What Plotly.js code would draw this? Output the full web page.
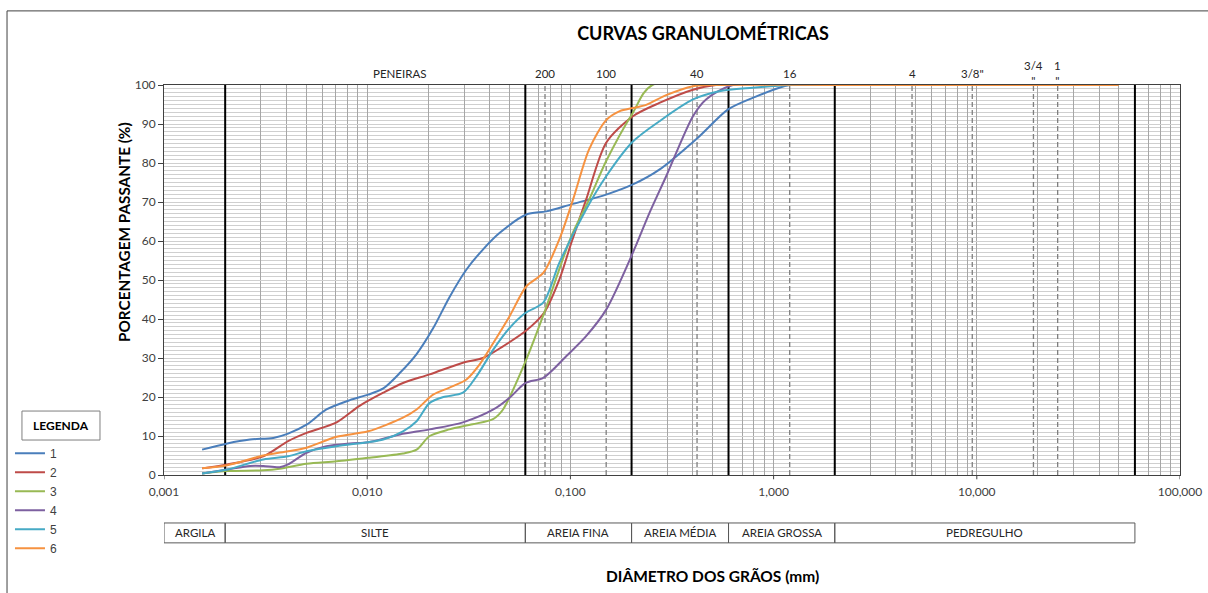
<!DOCTYPE html>
<html>
<head>
<meta charset="utf-8">
<script src="https://cdn.plot.ly/plotly-3.0.1.min.js"></script>
<style>html,body{margin:0;padding:0;background:#fff;}#chart{width:1208px;height:593px;}</style>
</head>
<body>
<div id="chart"></div>
<script>
// ---- data ----
const seriesNames = ["1", "2", "3", "4", "5", "6"];
const d1 = [0.00154,0.00205,0.00265,0.00345,0.00408,0.00503,0.0063,0.00821,0.0101,0.012,0.0145,0.0175,0.0211,0.0254,0.0308,0.0371,0.0449,0.0607,0.0761,0.101,0.150,0.203,0.274,0.424,0.595,0.789,1.2,2,50];
const p1 = [6.5,8.1,9.1,9.5,10.6,12.9,16.8,19.2,20.6,22.2,26.2,31.0,37.6,45.6,52.7,57.8,62.1,66.8,67.6,69.4,71.9,74.5,78.3,86.5,93.7,96.7,100,100,100];
const d2 = [0.00154,0.00205,0.00308,0.00408,0.00503,0.00707,0.00921,0.012,0.015,0.0203,0.0296,0.0371,0.0466,0.0602,0.0742,0.0882,0.101,0.1195,0.150,0.203,0.274,0.401,0.52,2,50];
const p2 = [1.7,2.7,4.8,8.7,10.8,13.5,17.8,21.1,23.6,25.8,28.8,30,33,36.9,41.6,50.1,59.5,70.6,85.2,92,95.4,98.8,100,100,100];
const d3 = [0.00154,0.00205,0.00308,0.00371,0.00503,0.00707,0.0101,0.015,0.0175,0.0203,0.0254,0.033,0.0418,0.0466,0.0602,0.0742,0.101,0.1236,0.150,0.203,0.253,2,50];
const p3 = [0.4,1,1.2,1.6,2.9,3.5,4.4,5.5,6.5,10,11.7,13,14.4,16.8,29.2,41.5,61.2,70.6,80.5,92.9,100,100,100];
const d4 = [0.00154,0.00205,0.00265,0.00308,0.00371,0.00408,0.00503,0.0063,0.00821,0.0101,0.0145,0.0203,0.0296,0.0418,0.0502,0.0602,0.0735,0.0956,0.1195,0.150,0.203,0.245,0.296,0.401,0.465,0.63,2,50];
const p4 = [0.4,1.4,2.3,2.3,2,2.7,5.7,7.4,8.1,8.4,10.4,11.7,13.5,16.8,19.8,23.6,24.9,30.5,35.6,42.4,57,67.2,76.6,92,96.3,100,100,100];
const d5 = [0.00154,0.00205,0.00308,0.00408,0.00503,0.00707,0.0101,0.012,0.015,0.0175,0.0203,0.0237,0.0296,0.0345,0.0418,0.0502,0.0602,0.0735,0.0882,0.1195,0.150,0.203,0.274,0.401,0.54,0.789,1.2,2,50];
const p5 = [0.4,1.4,4,4.8,6.1,7.4,8.4,9.1,11.2,13.8,18.5,20,21.1,25.3,32.2,37.7,41.6,44.2,54.4,68.1,76.6,85.5,90.7,96.3,98.4,99.3,100,100,100];
const d6 = [0.00154,0.00205,0.00308,0.00408,0.00503,0.00707,0.0101,0.015,0.0175,0.0211,0.0254,0.0308,0.0357,0.0418,0.0502,0.0607,0.0735,0.0882,0.103,0.1236,0.150,0.175,0.203,0.236,0.296,0.401,0.48,2,50];
const p6 = [1.7,2.5,5,6.1,7,9.8,11.2,14.7,16.8,20.6,22.4,24.5,28.3,33.9,40.7,48.4,51.8,60.4,70.6,83.5,91,93.3,94.1,94.9,97.4,99.7,100,100,100];

const sieveSizes = [0.075, 0.15, 0.42, 1.2, 4.8, 9.5, 19, 25];
const sieveLabels = ["200", "100", "40", "16", "4", "3/8\"", "3/4<br>\"", "1<br>\""];
const boundaries = [0.002, 0.06, 0.2, 0.6, 2, 60];
const classEdges = [0.001, 0.002, 0.06, 0.2, 0.6, 2, 60];
const classNames = ["ARGILA", "SILTE", "AREIA FINA", "AREIA MÉDIA", "AREIA GROSSA", "PEDREGULHO"];
const xTickVals = [0.001, 0.01, 0.1, 1, 10, 100];
const xTickText = ["0,001", "0,010", "0,100", "1,000", "10,000", "100,000"];

// ---- styles ----
const colors = ["#4A7EBB", "#BE4B48", "#98B954", "#7D60A0", "#46AAC5", "#F69240"];
const FONT = "Lato, 'Open Sans', sans-serif";
const dsets = [[d1,p1],[d2,p2],[d3,p3],[d4,p4],[d5,p5],[d6,p6]];

// log gridlines: 1..9 within each decade, labels only at the decades
const gridVals = [], gridText = [];
for (let e = -3; e < 2; e++) for (let m = 1; m <= 9; m++) {
  gridVals.push(m * Math.pow(10, e));
  gridText.push(m === 1 ? xTickText[e + 3] : '');
}
gridVals.push(100); gridText.push(xTickText[5]);

function vlines(vals) {
  const xs = [], ys = [];
  vals.forEach(v => { xs.push(v, v, null); ys.push(0, 100, null); });
  return {xs, ys};
}
const bl = vlines(boundaries), sl = vlines(sieveSizes);
const traces = [
  {x: sl.xs, y: sl.ys, type:'scatter', mode:'lines', showlegend:false, hoverinfo:'skip',
   line:{color:'#7f7f7f', width:1.3, dash:'5px,3px'}},
  {x: bl.xs, y: bl.ys, type:'scatter', mode:'lines', showlegend:false, hoverinfo:'skip',
   line:{color:'#000', width:2}}
].concat(dsets.map((s, i) => ({
  x: s[0], y: s[1], name: seriesNames[i], type: 'scatter', mode: 'lines',
  line: {color: colors[i], width: 2, shape: 'spline', smoothing: 0.8},
  hoverinfo: 'x+y+name'
})));

const shapes = [];
// decade tick marks under the axis
xTickVals.forEach(v => shapes.push({type:'line', xref:'x', yref:'paper', x0:v, x1:v, y0:0, y1:-0.011, line:{color:'#404040', width:1}}));
for (let i = 0; i < classNames.length; i++) {
  shapes.push({type:'rect', xref:'x', yref:'paper', x0:classEdges[i], x1:classEdges[i+1], y0:-0.174, y1:-0.123, line:{color:'#595959', width:1}, fillcolor:'rgba(0,0,0,0)'});
}
// legend title box and outer frame
shapes.push({type:'rect', xref:'paper', yref:'paper', x0:-0.1398, x1:-0.063, y0:0.0897, y1:0.164, line:{color:'#7f7f7f', width:1}});
shapes.push({type:'rect', xref:'paper', yref:'paper', x0:-0.1545, x1:1.04, y0:-0.33, y1:1.19, line:{color:'#404040', width:1}});

const annotations = [];
sieveSizes.forEach((s, i) => annotations.push({xref:'x', yref:'paper', x:Math.log10(s), y:1, yshift:12, xanchor:'center', yanchor:'middle', text:sieveLabels[i], showarrow:false, font:{family:FONT, size:11.5, color:'#262626'}}));
annotations.push({xref:'paper', yref:'paper', x:0.232, y:1, yshift:12, xanchor:'center', yanchor:'middle', text:'PENEIRAS', showarrow:false, font:{family:FONT, size:11.5, color:'#262626'}});
for (let i = 0; i < classNames.length; i++) {
  const xm = (Math.log10(classEdges[i]) + Math.log10(classEdges[i+1])) / 2;
  annotations.push({xref:'x', yref:'paper', x:xm, y:-0.1487, xanchor:'center', yanchor:'middle', text:classNames[i], showarrow:false, font:{family:FONT, size:11.5, color:'#262626'}});
}
annotations.push({xref:'paper', yref:'paper', x:-0.0394, y:0.623, xanchor:'center', yanchor:'middle', textangle:-90, text:'<b>PORCENTAGEM PASSANTE (%)</b>', showarrow:false, font:{family:FONT, size:15.3, color:'#000'}});
annotations.push({xref:'paper', yref:'paper', x:0.540, y:-0.259, xanchor:'center', yanchor:'middle', text:'<b>DIÂMETRO DOS GRÃOS (mm)</b>', showarrow:false, font:{family:FONT, size:15.5, color:'#000'}});
annotations.push({xref:'paper', yref:'paper', x:-0.1014, y:0.1269, xanchor:'center', yanchor:'middle', text:'<b>LEGENDA</b>', showarrow:false, font:{family:FONT, size:12, color:'#000'}});

const layout = {
  width: 1208, height: 593,
  margin: {l:164, r:28, t:85, b:118, autoexpand:false},
  paper_bgcolor: '#fff', plot_bgcolor: '#fff',
  title: {text:'<b>CURVAS GRANULOMÉTRICAS</b>', x:0.582, xanchor:'center', y:0.944, yanchor:'middle', font:{family:FONT, size:18, color:'#000'}},
  xaxis: {
    type:'log', range:[-3, 2], tickmode:'array', tickvals:gridVals, ticktext:gridText,
    showgrid:true, gridcolor:'#a6a6a6', gridwidth:1,
    showline:true, linecolor:'#404040', linewidth:1, mirror:true,
    ticks:'', ticklabelstandoff:6,
    tickfont:{family:FONT, size:12, color:'#404040'}, zeroline:false
  },
  yaxis: {
    range:[0, 100], dtick:10, showgrid:true, gridcolor:'#cfcfcf', gridwidth:1,
    minor:{dtick:1, showgrid:true, gridcolor:'#cfcfcf', gridwidth:1, ticks:''},
    showline:true, linecolor:'#404040', linewidth:1, mirror:true,
    ticks:'outside', ticklen:5, tickcolor:'#404040',
    tickfont:{family:FONT, size:12, color:'#404040'}, zeroline:false
  },
  showlegend: true,
  legend: {x:-0.1516, xanchor:'left', y:0.093, yanchor:'top', bgcolor:'rgba(0,0,0,0)',
    font:{family:"'Liberation Sans', Arial, sans-serif", size:12, color:'#404040'}, itemwidth:30, tracegroupgap:0},
  shapes: shapes,
  annotations: annotations
};

Plotly.newPlot('chart', traces, layout, {displayModeBar:false, staticPlot:true});
</script>
</body>
</html>
